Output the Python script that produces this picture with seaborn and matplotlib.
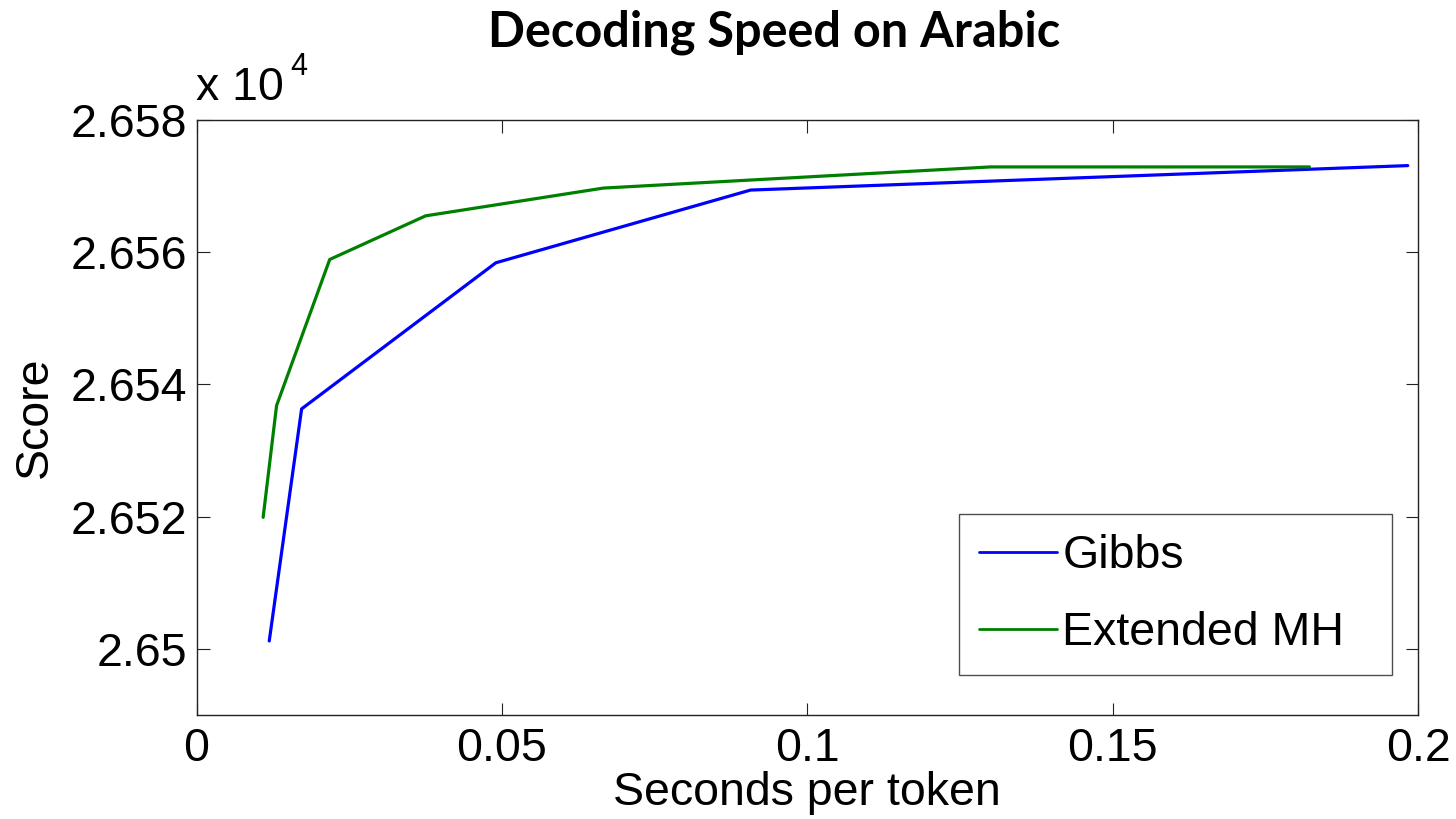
import matplotlib
matplotlib.use("Agg")
import matplotlib.pyplot as plt
from matplotlib.ticker import FuncFormatter
import seaborn as sns
import pandas as pd

# Decoding time per token (seconds) and model score for each sampler
gibbs_sec = [0.0119, 0.0172, 0.0490, 0.0907, 0.1983]
gibbs_score = [26501.2, 26536.3, 26558.4, 26569.4, 26573.1]

mh_sec = [0.0109, 0.0131, 0.0218, 0.0375, 0.0666, 0.1300, 0.1822]
mh_score = [26519.9, 26536.8, 26558.9, 26565.5, 26569.7, 26572.9, 26572.9]

methods = ["Gibbs", "Extended MH"]
x_ticks = [0, 0.05, 0.1, 0.15, 0.2]
y_ticks = [26500, 26520, 26540, 26560, 26580]

df = pd.DataFrame({
    "sec": gibbs_sec + mh_sec,
    "score": gibbs_score + mh_score,
    "method": [methods[0]] * len(gibbs_sec) + [methods[1]] * len(mh_sec),
})

sns.set_style("white")
plt.rcParams["font.family"] = ["Liberation Sans", "DejaVu Sans"]
plt.rcParams.update({
    "text.color": "black",
    "axes.labelcolor": "black",
    "xtick.color": "black",
    "ytick.color": "black",
})

fig = plt.figure(figsize=(14.56, 8.19), dpi=100)
ax = fig.add_axes([0.135, 0.127, 0.839, 0.7265])

sns.lineplot(data=df, x="sec", y="score", hue="method", hue_order=methods,
             palette={"Gibbs": "#0000ff", "Extended MH": "#008000"},
             sort=False, estimator=None, linewidth=2.3, ax=ax)

ax.set_xlim(0, 0.2)
ax.set_ylim(26490, 26580)
ax.set_xticks(x_ticks)
ax.set_yticks(y_ticks)
ax.xaxis.set_major_formatter(FuncFormatter(lambda v, p: f"{v:g}"))
ax.yaxis.set_major_formatter(FuncFormatter(lambda v, p: f"{v / 1e4:g}"))

ax.tick_params(axis="both", which="major", direction="in", length=9, width=0.8,
               labelsize=33.5, color="#222222", labelcolor="black",
               top=True, right=True, bottom=True, left=True, pad=9)
ax.tick_params(axis="y", pad=7)
for s in ax.spines.values():
    s.set_linewidth(1.0)
    s.set_color("#222222")
    s.set_visible(True)

ax.set_xlabel("Seconds per token", fontsize=33.5, labelpad=0)
ax.set_ylabel("Score", fontsize=33.5, labelpad=10)

# exponent annotation for the y axis
fig.text(0.1345, 0.866, "x 10", fontsize=33.5, ha="left", va="bottom")
fig.text(0.1995, 0.9, "4", fontsize=22, ha="left", va="bottom")

fig.text(0.532, 0.961, "Decoding Speed on Arabic", fontsize=35,
         fontweight="bold", family=["Lato", "DejaVu Sans"],
         ha="center", va="center")

leg = ax.legend(loc="lower left", bbox_to_anchor=(0.6242, 0.0672, 0.3545, 0.2),
                mode="expand", borderaxespad=0, fontsize=33.5,
                frameon=True, fancybox=False, handlelength=1.68,
                handletextpad=0.12, borderpad=0.42, labelspacing=0.72,
                edgecolor="#222222")
leg.get_frame().set_linewidth(1.0)
for ln in leg.get_lines():
    ln.set_linewidth(2.0)

fig.savefig("out.png", dpi=100, facecolor="white")
